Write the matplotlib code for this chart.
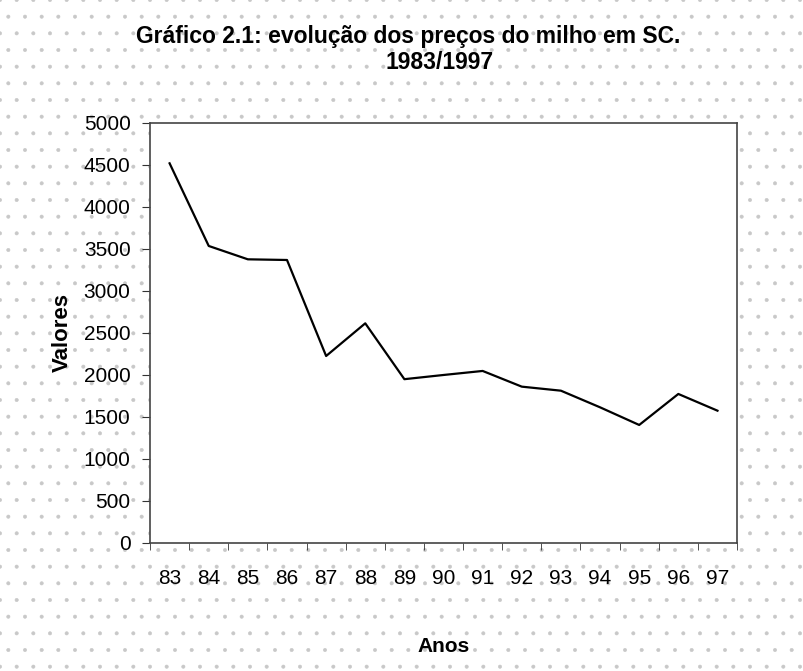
import matplotlib
matplotlib.use("Agg")
import matplotlib.pyplot as plt
from matplotlib.patches import Rectangle
import numpy as np

plt.rcParams['font.family'] = ['Liberation Sans', 'DejaVu Sans']
plt.rcParams['hatch.color'] = '#c8c8c8'
plt.rcParams['hatch.linewidth'] = 0.4

years = ["83", "84", "85", "86", "87", "88", "89", "90", "91", "92", "93", "94", "95", "96", "97"]
values = [4520, 3536, 3377, 3369, 2226, 2615, 1950, 2000, 2048, 1861, 1813, 1615, 1405, 1774, 1575]
yticks = [0, 500, 1000, 1500, 2000, 2500, 3000, 3500, 4000, 4500, 5000]

fig = plt.figure(figsize=(8.04, 6.71), dpi=100)
fig.patch.set_facecolor('white')
bg = Rectangle((0, 0), 1, 1, transform=fig.transFigure, facecolor='white',
               edgecolor='#c8c8c8', hatch='.', linewidth=0, zorder=-10)
fig.patches.append(bg)

ax = fig.add_axes([0.1866, 0.1908, 0.7301, 0.6259])
ax.set_facecolor('white')
x = np.arange(len(years))
ax.plot(x, values, color='black', linewidth=1.6)

ax.set_xlim(-0.5, len(years) - 0.5)
ax.set_ylim(0, 5000)
ax.set_yticks(yticks)
ax.set_yticklabels([str(v) for v in yticks])
ax.set_xticks(x)
ax.set_xticklabels(years)
ax.set_xticks(np.arange(-0.5, len(years), 1.0), minor=True)
ax.tick_params(axis='x', which='major', length=0, pad=19, labelsize=15)
ax.tick_params(axis='x', which='minor', length=5, direction='out', color='#333333')
ax.tick_params(axis='y', length=6, direction='out', labelsize=15, pad=8, color='#333333')
for s in ax.spines.values():
    s.set_color('#444444')
    s.set_linewidth(1.2)

ax.set_ylabel('Valores', fontsize=16, fontweight='bold', labelpad=8)
ax.set_xlabel('Anos', fontsize=15, fontweight='bold', labelpad=35)

fig.text(0.508, 0.945, 'Gráfico 2.1: evolução dos preços do milho em SC.', ha='center', va='center',
         fontsize=16.5, fontweight='bold')
fig.text(0.547, 0.907, '1983/1997', ha='center', va='center', fontsize=16.5, fontweight='bold')

fig.savefig('out.png', dpi=100)
